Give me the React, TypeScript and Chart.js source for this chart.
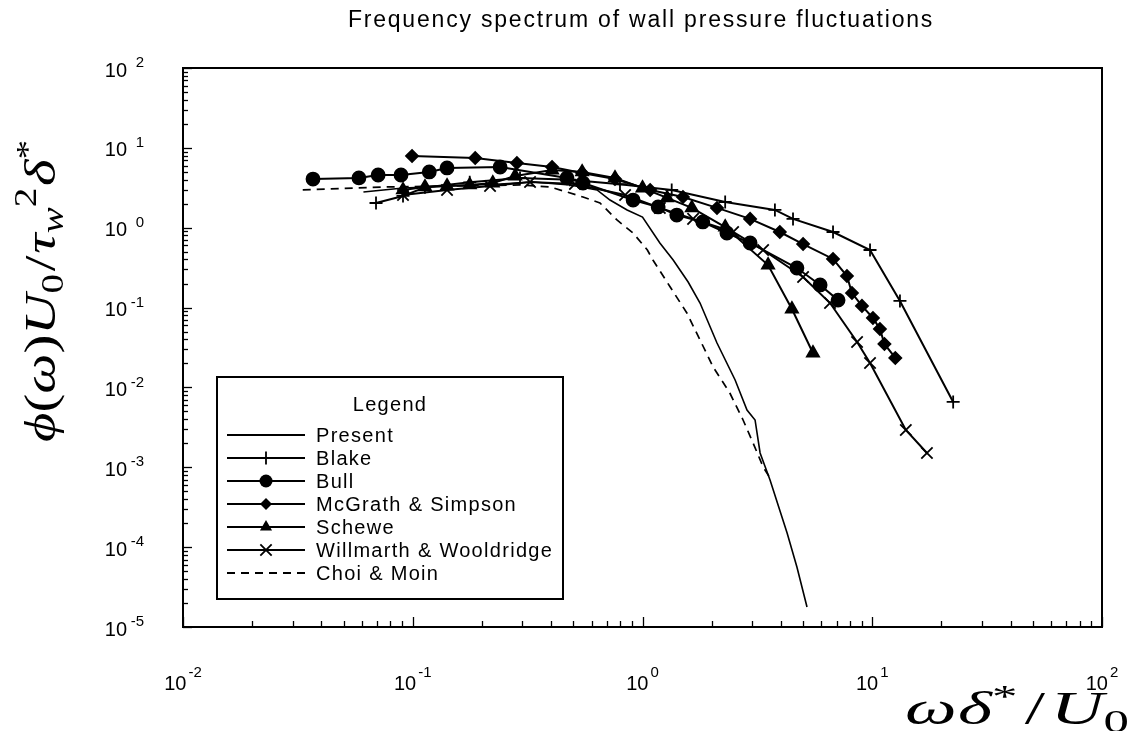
import React, { useEffect, useRef } from 'react';
import { Chart, registerables } from 'chart.js';

Chart.register(...registerables);

// ---------- data ----------
const seriesNames = ['Present', 'Blake', 'Bull', 'McGrath & Simpson', 'Schewe', 'Willmarth & Wooldridge', 'Choi & Moin'];

const presentX = [0.061, 0.091, 0.145, 0.24, 0.333, 0.483, 0.634, 0.722, 0.857, 1.0, 1.19, 1.36, 1.58, 1.78, 2.11, 2.53, 2.85, 3.09, 3.25, 3.59, 4.26, 4.7, 5.2];
const presentY = [2.8, 3.14, 3.33, 3.53, 3.74, 3.43, 2.97, 2.22, 1.67, 1.36, 0.644, 0.394, 0.209, 0.114, 0.036, 0.0124, 0.00522, 0.00391, 0.00151, 0.000693, 0.00015, 0.0000565, 0.0000178];

const blakeX = [0.0692, 0.0907, 0.113, 0.177, 0.293, 0.483, 0.798, 1.34, 2.29, 3.77, 4.52, 6.75, 9.78, 13.2, 22.5];
const blakeY = [2.04, 2.5, 3.2, 3.7, 4.2, 4.0, 3.5, 2.97, 2.1, 1.67, 1.29, 0.884, 0.526, 0.121, 0.00658];

const bullX = [0.0368, 0.0583, 0.0707, 0.0889, 0.118, 0.141, 0.24, 0.469, 0.551, 0.91, 1.17, 1.41, 1.83, 2.33, 2.94, 4.7, 5.93, 7.1];
const bullY = [4.07, 4.2, 4.57, 4.57, 4.99, 5.6, 5.76, 4.2, 3.63, 2.22, 1.82, 1.44, 1.18, 0.859, 0.644, 0.313, 0.192, 0.124];

const mcgrathX = [0.0993, 0.187, 0.284, 0.404, 0.546, 0.759, 1.08, 1.5, 2.11, 2.94, 3.96, 5.0, 6.75, 7.76, 8.16, 9.02, 10.07, 10.8, 11.3, 12.6];
const mcgrathY = [7.91, 7.46, 6.46, 5.76, 4.84, 4.07, 2.97, 2.42, 1.77, 1.29, 0.884, 0.625, 0.406, 0.248, 0.152, 0.105, 0.0741, 0.054, 0.035, 0.0234];

const scheweX = [0.0907, 0.113, 0.141, 0.177, 0.223, 0.279, 0.404, 0.546, 0.759, 1.0, 1.28, 1.64, 2.29, 3.52, 4.47, 5.52];
const scheweY = [2.97, 3.24, 3.33, 3.43, 3.63, 4.44, 5.28, 4.99, 4.2, 3.14, 2.36, 1.77, 1.02, 0.341, 0.096, 0.027];

const willmarthX = [0.0907, 0.141, 0.217, 0.324, 0.508, 0.84, 1.19, 1.66, 2.48, 3.35, 5.0, 6.55, 8.59, 9.78, 14.0, 17.3];
const willmarthY = [2.57, 2.97, 3.33, 3.74, 3.53, 2.57, 1.77, 1.29, 0.884, 0.526, 0.242, 0.114, 0.0371, 0.0202, 0.00293, 0.00151];

const choiX = [0.0332, 0.0773, 0.145, 0.293, 0.395, 0.469, 0.551, 0.653, 0.774, 0.91, 1.05, 1.11, 1.32, 1.56, 1.78, 2.03, 2.4, 2.74, 3.03, 3.35, 3.59];
const choiY = [2.97, 3.24, 3.33, 3.43, 3.24, 2.8, 2.42, 2.04, 1.25, 0.859, 0.526, 0.394, 0.181, 0.0855, 0.0393, 0.018, 0.00851, 0.00391, 0.00201, 0.00101, 0.000735];

const xTickExponents = [-2, -1, 0, 1, 2];
const yTickExponents = [-5, -4, -3, -2, -1, 0, 1, 2];
const chartTitle = 'Frequency spectrum of wall pressure fluctuations';
const legendTitle = 'Legend';

// ---------- helpers ----------
const pts = (xs: number[], ys: number[]) => xs.map((x, i) => ({ x, y: ys[i] }));

const SANS = '"Liberation Sans", Arial, sans-serif';
const SERIF = '"Liberation Serif", "DejaVu Serif", serif';

type Seg = { t: string; it?: boolean; s?: number; dy?: number; gap?: number };

function segsWidth(ctx: CanvasRenderingContext2D, segs: Seg[], size: number) {
  let w = 0;
  for (const g of segs) {
    ctx.font = `${g.it ? 'italic ' : ''}${Math.round(size * (g.s ?? 1))}px ${SERIF}`;
    w += ctx.measureText(g.t).width + (g.gap ?? 0) * size;
  }
  return w;
}

function drawSegs(ctx: CanvasRenderingContext2D, segs: Seg[], x: number, y: number, size: number) {
  let cx = x;
  ctx.textBaseline = 'alphabetic';
  ctx.textAlign = 'left';
  for (const g of segs) {
    ctx.font = `${g.it ? 'italic ' : ''}${Math.round(size * (g.s ?? 1))}px ${SERIF}`;
    ctx.fillText(g.t, cx, y + (g.dy ?? 0) * size);
    cx += ctx.measureText(g.t).width + (g.gap ?? 0) * size;
  }
}

function drawMarker(ctx: CanvasRenderingContext2D, style: string, x: number, y: number, r: number) {
  ctx.beginPath();
  if (style === 'circle') {
    ctx.arc(x, y, r, 0, Math.PI * 2);
    ctx.fill();
  } else if (style === 'rectRot') {
    ctx.moveTo(x, y - r); ctx.lineTo(x + r, y); ctx.lineTo(x, y + r); ctx.lineTo(x - r, y); ctx.closePath();
    ctx.fill();
  } else if (style === 'triangle') {
    for (let k = 0; k < 3; k++) {
      const ang = -Math.PI / 2 + k * (2 * Math.PI / 3);
      const px = x + Math.cos(ang) * r, py = y + Math.sin(ang) * r;
      if (k === 0) ctx.moveTo(px, py); else ctx.lineTo(px, py);
    }
    ctx.closePath();
    ctx.fill();
  } else if (style === 'cross') {
    ctx.moveTo(x - r, y); ctx.lineTo(x + r, y); ctx.moveTo(x, y - r); ctx.lineTo(x, y + r);
    ctx.stroke();
  } else if (style === 'crossRot') {
    const d = r * Math.SQRT1_2;
    ctx.moveTo(x - d, y - d); ctx.lineTo(x + d, y + d); ctx.moveTo(x + d, y - d); ctx.lineTo(x - d, y + d);
    ctx.stroke();
  }
}

const decorPlugin = {
  id: 'decor',
  afterDraw(chart: any) {
    const ctx: CanvasRenderingContext2D = chart.ctx;
    const { left, right, top, bottom } = chart.chartArea;
    const xs = chart.scales.x;
    const ys = chart.scales.y;
    ctx.save();
    ctx.fillStyle = '#000';
    ctx.strokeStyle = '#000';

    // frame
    ctx.lineWidth = 2;
    ctx.strokeRect(left, top, right - left, bottom - top);

    // ticks (inward)
    ctx.lineWidth = 1.3;
    for (let i = 0; i < yTickExponents.length; i++) {
      const e = yTickExponents[i];
      for (let m = 1; m < 10; m++) {
        if (i === yTickExponents.length - 1 && m > 1) break;
        const py = Math.round(ys.getPixelForValue(m * Math.pow(10, e))) + 0.5;
        const len = m === 1 ? 9 : 5;
        ctx.beginPath(); ctx.moveTo(left, py); ctx.lineTo(left + len, py); ctx.stroke();
      }
    }
    for (let i = 0; i < xTickExponents.length; i++) {
      const e = xTickExponents[i];
      for (let m = 1; m < 10; m++) {
        if (i === xTickExponents.length - 1 && m > 1) break;
        const px = Math.round(xs.getPixelForValue(m * Math.pow(10, e))) + 0.5;
        const len = m === 1 ? 10 : 6;
        ctx.beginPath(); ctx.moveTo(px, bottom); ctx.lineTo(px, bottom - len); ctx.stroke();
      }
    }

    // y tick labels
    for (const e of yTickExponents) {
      const py = ys.getPixelForValue(Math.pow(10, e));
      ctx.font = `20px ${SANS}`;
      ctx.textAlign = 'right';
      ctx.textBaseline = 'middle';
      ctx.fillText('10', 127, py + 3);
      ctx.font = `15px ${SANS}`;
      ctx.fillText(String(e), 144, py - 5);
    }
    // x tick labels
    for (const e of xTickExponents) {
      const px = xs.getPixelForValue(Math.pow(10, e));
      ctx.textBaseline = 'middle';
      ctx.font = `20px ${SANS}`;
      const wb = ctx.measureText('10').width;
      ctx.font = `15px ${SANS}`;
      const we = ctx.measureText(String(e)).width;
      const x0 = px - (wb + 2 + we) / 2;
      ctx.textAlign = 'left';
      ctx.font = `20px ${SANS}`;
      ctx.fillText('10', x0, bottom + 57);
      ctx.font = `15px ${SANS}`;
      ctx.fillText(String(e), x0 + wb + 2, bottom + 46);
    }

    // title
    ctx.font = `23px ${SANS}`;
    (ctx as any).letterSpacing = '1.8px';
    ctx.textAlign = 'center';
    ctx.textBaseline = 'middle';
    ctx.fillText(chartTitle, 641, 21);
    (ctx as any).letterSpacing = '0px';

    // x-axis title
    const xSegs: Seg[] = [
      { t: 'ω', it: true, gap: 0.02 }, { t: 'δ', it: true }, { t: '*', s: 0.7, dy: -0.38, gap: 0.1 },
      { t: '/', gap: 0.08 }, { t: 'U', it: true }, { t: '0', s: 0.7, dy: 0.18 },
    ];
    const xSize = 46;
    const xw = segsWidth(ctx, xSegs, xSize);
    ctx.save();
    ctx.translate(905, 724);
    ctx.scale(224 / xw, 1);
    drawSegs(ctx, xSegs, 0, 0, xSize);
    ctx.restore();

    // y-axis title (rotated)
    const ySegs: Seg[] = [
      { t: 'ϕ', it: true }, { t: '(' }, { t: 'ω', it: true }, { t: ')' }, { t: 'U', it: true },
      { t: '0', s: 0.7, dy: 0.18, gap: 0.05 }, { t: '/', gap: 0.03 }, { t: 'τ', it: true },
      { t: 'w', it: true, s: 0.7, dy: 0.18 }, { t: '2', s: 0.7, dy: -0.42, gap: 0.03 },
      { t: 'δ', it: true }, { t: '*', s: 0.7, dy: -0.38 },
    ];
    const ySize = 45;
    const yw = segsWidth(ctx, ySegs, ySize);
    ctx.save();
    ctx.translate(55, 291);
    ctx.rotate(-Math.PI / 2);
    ctx.scale(302 / yw, 1);
    drawSegs(ctx, ySegs, -yw / 2, 0, ySize);
    ctx.restore();

    // legend
    const lx0 = 217, ly0 = 377, lx1 = 563, ly1 = 599;
    ctx.fillStyle = '#fff';
    ctx.fillRect(lx0, ly0, lx1 - lx0, ly1 - ly0);
    ctx.fillStyle = '#000';
    ctx.lineWidth = 2;
    ctx.strokeRect(lx0, ly0, lx1 - lx0, ly1 - ly0);
    ctx.font = `20px ${SANS}`;
    (ctx as any).letterSpacing = '1.3px';
    ctx.textAlign = 'center';
    ctx.textBaseline = 'middle';
    ctx.fillText(legendTitle, 390, 405);
    ctx.textAlign = 'left';
    const dsets = chart.data.datasets;
    for (let i = 0; i < dsets.length; i++) {
      const ds = dsets[i];
      const y = 435 + i * 23;
      ctx.lineWidth = 1.8;
      ctx.setLineDash(ds.borderDash || []);
      ctx.beginPath(); ctx.moveTo(227, y); ctx.lineTo(305, y); ctx.stroke();
      ctx.setLineDash([]);
      if (ds.pointRadius > 0) {
        ctx.lineWidth = ds.pointBorderWidth || 1.5;
        drawMarker(ctx, ds.pointStyle, 266, y, ds.pointRadius);
      }
      ctx.fillText(ds.label, 316, y + 1);
    }
    (ctx as any).letterSpacing = '0px';
    ctx.restore();
  },
};

export default function App() {
  const canvasRef = useRef<HTMLCanvasElement | null>(null);

  useEffect(() => {
    if (!canvasRef.current) return;
    const base = {
      showLine: true,
      borderColor: '#000',
      backgroundColor: '#000',
      pointBackgroundColor: '#000',
      pointBorderColor: '#000',
      borderWidth: 2,
      pointBorderWidth: 1.8,
      fill: false,
      tension: 0,
    };
    const chart = new Chart(canvasRef.current, {
      type: 'scatter',
      data: {
        datasets: [
          { ...base, label: seriesNames[0], data: pts(presentX, presentY), pointRadius: 0, borderWidth: 1.6 },
          { ...base, label: seriesNames[1], data: pts(blakeX, blakeY), pointStyle: 'cross', pointRadius: 6.5 },
          { ...base, label: seriesNames[2], data: pts(bullX, bullY), pointStyle: 'circle', pointRadius: 6.5 },
          { ...base, label: seriesNames[3], data: pts(mcgrathX, mcgrathY), pointStyle: 'rectRot', pointRadius: 6 },
          { ...base, label: seriesNames[4], data: pts(scheweX, scheweY), pointStyle: 'triangle', pointRadius: 7 },
          { ...base, label: seriesNames[5], data: pts(willmarthX, willmarthY), pointStyle: 'crossRot', pointRadius: 8 },
          { ...base, label: seriesNames[6], data: pts(choiX, choiY), pointRadius: 0, borderWidth: 1.7, borderDash: [8, 6] },
        ] as any,
      },
      options: {
        responsive: false,
        animation: false,
        events: [],
        devicePixelRatio: 1,
        layout: { padding: { left: 183, right: 34, top: 68, bottom: 104 } },
        scales: {
          x: { type: 'logarithmic', min: 0.01, max: 100, display: false },
          y: { type: 'logarithmic', min: 0.00001, max: 100, display: false },
        },
        plugins: {
          legend: { display: false },
          tooltip: { enabled: false },
          title: { display: false },
        },
      },
      plugins: [decorPlugin],
    });
    return () => chart.destroy();
  }, []);

  return (
    <div style={{ position: 'absolute', left: 0, top: 0, width: 1136, height: 731, background: '#fff' }}>
      <canvas ref={canvasRef} width={1136} height={731} style={{ width: 1136, height: 731, display: 'block' }} />
    </div>
  );
}
